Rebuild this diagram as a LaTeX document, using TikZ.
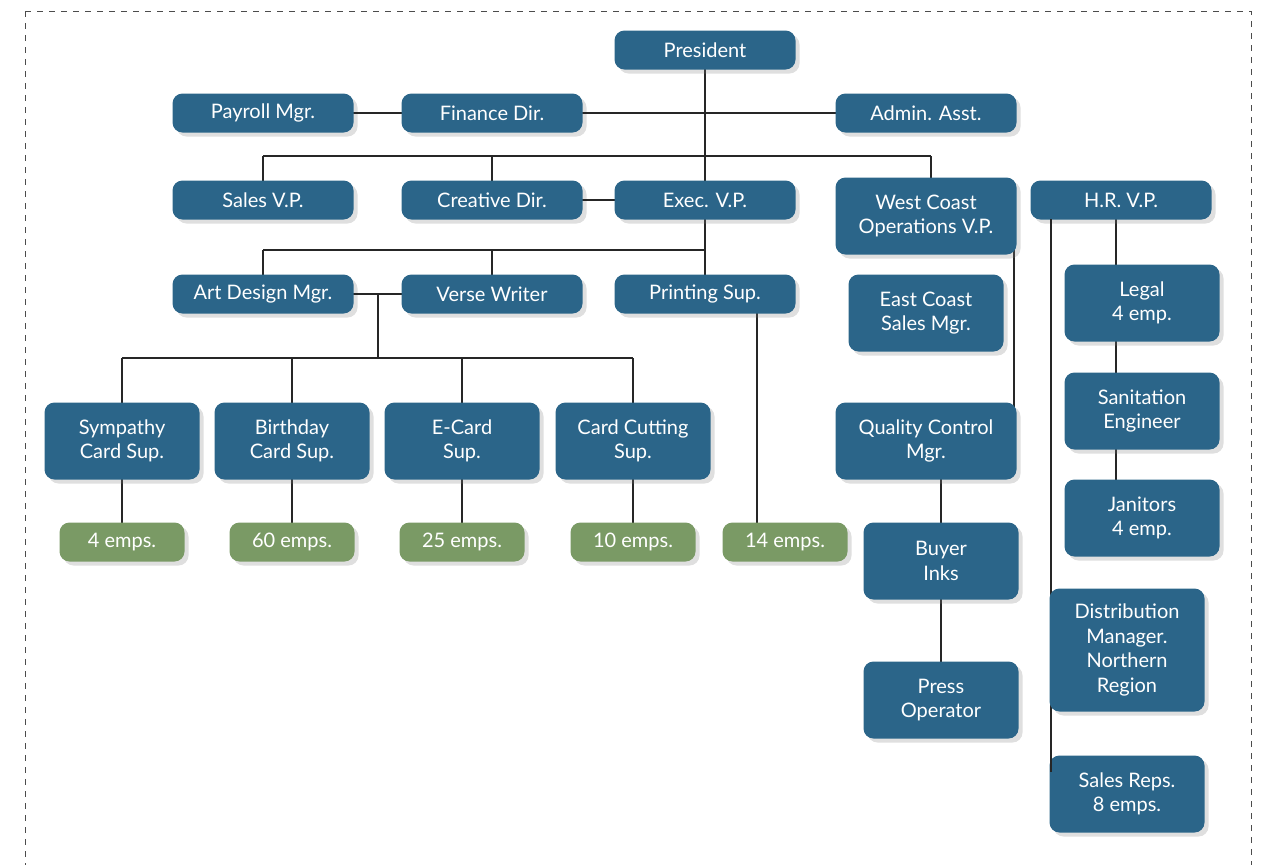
\documentclass[tikz,border=0pt]{standalone}
\usepackage{fontspec}
\setmainfont{Lato}
\usetikzlibrary{shadows}
\definecolor{bx}{HTML}{2B6589}
\definecolor{gn}{HTML}{7A9A65}
\begin{document}
\begin{tikzpicture}[x=0.5pt,y=-0.5pt,
  b/.style={rounded corners=5pt,fill=bx,text=white,align=center,inner sep=0pt,font=\fontsize{10}{12.2}\selectfont,drop shadow={shadow xshift=2pt,shadow yshift=-2pt,opacity=0.25}},
  w/.style={b,minimum width=90.5pt,minimum height=19.5pt},
  t/.style={b,minimum width=77.5pt,minimum height=38.5pt},
  g/.style={b,fill=gn,minimum width=62.5pt,minimum height=19.5pt},
  ln/.style={line width=1.1pt,black!85}]
\useasboundingbox (0,0) rectangle (1284,864);
\draw[dashed,black!70,line width=0.5pt] (25,11) -- (1251,11) -- (1251,880) (25,11) -- (25,880);
% connectors first
\coordinate (busL) at (263,156); \coordinate (busR) at (931,156);
\coordinate (bus2L) at (263,250); \coordinate (bus2R) at (705,250);
\coordinate (j) at (378,294); \coordinate (jb) at (378,358);
\coordinate (bus3L) at (122,358); \coordinate (bus3R) at (633,358);
\begin{scope}[ln]
\draw (705,50) -- (705,294);
\draw (263,113) -- (926,113);
\draw (busL) -- (busR);
\draw (busL) -- (263,200); \draw (492,156) -- (492,200); \draw (busR) -- (931,216);
\draw (492,200) -- (705,200);
\draw (bus2L) -- (bus2R); \draw (bus2L) -- (263,294); \draw (492,250) -- (492,294);
\draw (263,294) -- (492,294); \draw (j) -- (jb); \draw (bus3L) -- (bus3R);
\foreach \x in {122,292,462,633} {\draw (\x,358) -- (\x,542);}
\draw (757,294) -- (757,542);
\draw (1014,242) -- (1014,418);
\draw (941,441) -- (941,700);
\draw (1116,200) -- (1116,518);
\draw (1051,200) -- (1051,772);
\end{scope}
\node[w] (pres) at (705,50) {President};
\node[w] (pay) at (263,113) {Payroll Mgr.};
\node[w] (fin) at (492,113) {Finance Dir.};
\node[w] (adm) at (926,113) {Admin. Asst.};
\node[w] (svp) at (263,200) {Sales V.P.};
\node[w] (cre) at (492,200) {Creative Dir.};
\node[w] (exe) at (705,200) {Exec. V.P.};
\node[w,minimum height=38.5pt] (wc) at (926,216) {West Coast\\Operations V.P.};
\node[w] (hr) at (1121,200) {H.R. V.P.};
\node[w] (art) at (263,294) {Art Design Mgr.};
\node[w] (ver) at (492,294) {Verse Writer};
\node[w] (pri) at (705,294) {Printing Sup.};
\node[t] (ec) at (926,313) {East Coast\\Sales Mgr.};
\node[t] (leg) at (1142,303) {Legal\\4 emp.};
\node[t] (san) at (1142,411) {Sanitation\\Engineer};
\node[t] (jan) at (1142,518) {Janitors\\4 emp.};
\node[t] (sym) at (122,441) {Sympathy\\Card Sup.};
\node[t] (bir) at (292,441) {Birthday\\Card Sup.};
\node[t] (eca) at (462,441) {E-Card\\Sup.};
\node[t] (cut) at (633,441) {Card Cutting\\Sup.};
\node[w,minimum height=38.5pt] (qc) at (926,441) {Quality Control\\Mgr.};
\node[t] (buy) at (941,561) {Buyer\\Inks};
\node[t] (pre) at (941,700) {Press\\Operator};
\node[t,minimum height=61.5pt] (dis) at (1127,650) {Distribution\\Manager.\\Northern\\Region};
\node[t] (rep) at (1127,794) {Sales Reps.\\8 emps.};
\node[g] (e4) at (122,542) {4 emps.};
\node[g] (e60) at (292,542) {60 emps.};
\node[g] (e25) at (462,542) {25 emps.};
\node[g] (e10) at (633,542) {10 emps.};
\node[g] (e14) at (785,542) {14 emps.};
\begin{scope}[ln]
\draw (fin.east) -- (adm.west); \draw (pay.east) -- (fin.west); \draw (cre.east) -- (exe.west);
\draw (art.east) -- (ver.west);
\draw (1051,219) -- (1051,589); \draw (1051,712) -- (1051,772);
\end{scope}
\end{tikzpicture}
\end{document}
